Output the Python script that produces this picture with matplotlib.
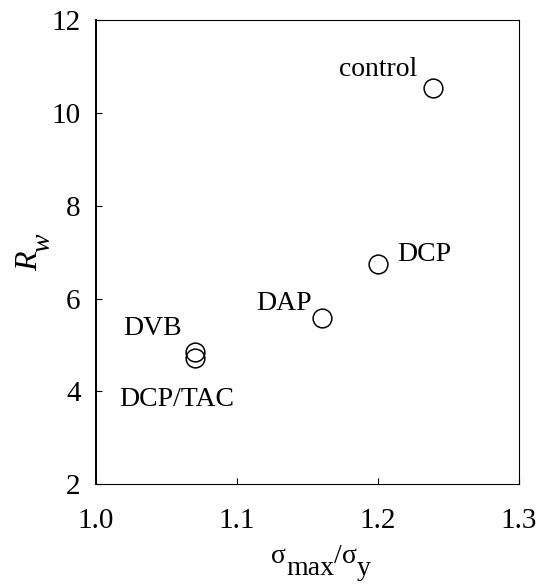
import matplotlib
matplotlib.use('Agg')
import matplotlib.pyplot as plt
from matplotlib import transforms

# ── Style ────────────────────────────────────────────────────────────────────
plt.rcParams.update({
    'font.family': ['Liberation Serif', 'DejaVu Serif'],
})

# ── Data ─────────────────────────────────────────────────────────────────────
labels = ['control', 'DCP', 'DAP', 'DVB', 'DCP/TAC']
sigma_ratio = [1.239, 1.200, 1.160, 1.070, 1.070]
rw = [10.54, 6.74, 5.59, 4.85, 4.71]

# label offsets in points, and alignment, per point
label_pos = {
    'control': ((-11.3, 9.1), 'right'),
    'DCP':     ((13.5, 2.4), 'left'),
    'DAP':     ((-7.2, 5.5), 'right'),
    'DVB':     ((-9.1, 12.2), 'right'),
    'DCP/TAC': ((-12.7, -34.3), 'center'),
}


def draw_pieces(fig, ax, pieces, anchor, vertical=False):
    """Lay out (text, drop_px, size, style) pieces along a baseline, centred
    on anchor (axes coords). drop_px lowers a piece below the baseline."""
    renderer = fig.canvas.get_renderer()
    widths = []
    for txt, drop, size, style in pieces:
        t = ax.text(0, 0, txt, fontsize=size, fontstyle=style)
        widths.append(t.get_window_extent(renderer).width)
        t.remove()
    pos = -sum(widths) / 2
    for (txt, drop, size, style), w in zip(pieces, widths):
        if vertical:
            dx, dy, rot = drop, pos, 90
        else:
            dx, dy, rot = pos, -drop, 0
        tr = transforms.offset_copy(ax.transAxes, fig=fig, x=dx, y=dy,
                                    units='dots')
        ax.text(anchor[0], anchor[1], txt, transform=tr, fontsize=size,
                fontstyle=style, rotation=rot, rotation_mode='anchor',
                ha='left', va='baseline', clip_on=False)
        pos += w


# ── Figure ───────────────────────────────────────────────────────────────────
fig = plt.figure(figsize=(5.4, 5.84), dpi=100)
ax = fig.add_axes([0.1778, 0.1712, 0.7833, 0.7937])

ax.plot(sigma_ratio, rw, 'o', linestyle='none', markersize=13.5,
        markerfacecolor='none', markeredgecolor='black', markeredgewidth=1.1)

for name, xv, yv in zip(labels, sigma_ratio, rw):
    off, ha = label_pos[name]
    ax.annotate(name, (xv, yv), xytext=off, textcoords='offset points',
                ha=ha, va='baseline', fontsize=20)

ax.set_xlim(1.0, 1.3)
ax.set_ylim(2, 12)
ax.set_xticks([1.0, 1.1, 1.2, 1.3])
ax.set_xticklabels(['1.0', '1.1', '1.2', '1.3'])
ax.set_yticks([2, 4, 6, 8, 10, 12])

ax.tick_params(axis='x', direction='in', length=4, width=0.8,
               labelsize=21, pad=17.5)
ax.tick_params(axis='y', direction='in', length=4, width=0.8,
               labelsize=21, pad=11)

for side in ['top', 'right', 'bottom']:
    ax.spines[side].set_linewidth(0.8)
ax.spines['left'].set_linewidth(1.4)

# axis titles with full-size subscripts, as in the original
draw_pieces(fig, ax, [('σ', 0, 20, 'normal'), ('max', 12, 20, 'normal'),
                      ('/', 0, 20, 'normal'), ('σ', 0, 20, 'normal'),
                      ('y', 12, 20, 'normal')],
            anchor=(0.532, -0.1704))
draw_pieces(fig, ax, [('R', 0, 23, 'italic'), ('w', 12, 20, 'italic')],
            anchor=(-0.1395, 0.5005), vertical=True)

fig.savefig('out.png', dpi=100)
plt.close(fig)
